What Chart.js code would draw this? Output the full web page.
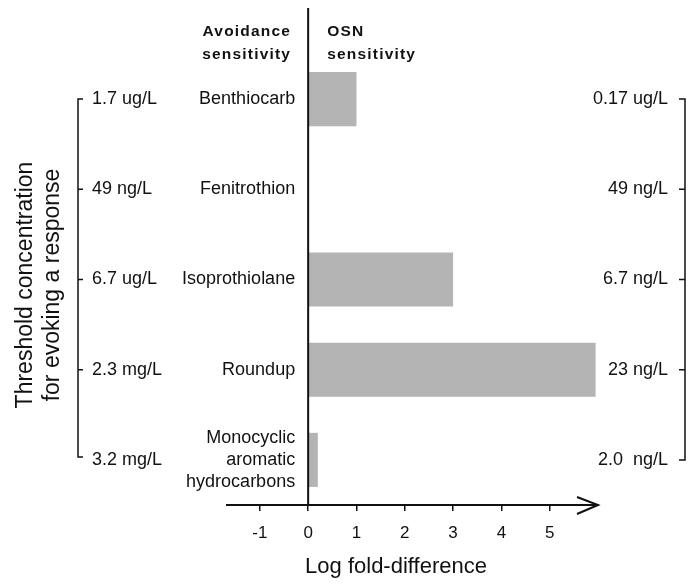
<!DOCTYPE html>
<html>
<head>
<meta charset="utf-8">
<script src="https://cdn.jsdelivr.net/npm/chart.js@4"></script>
<style>
  body { margin: 0; background: #fff; }
  #wrap { width: 697px; height: 584px; }
</style>
</head>
<body>
<div id="wrap"><canvas id="myChart" width="697" height="584"></canvas></div>
<script>
const categories = ['Benthiocarb', 'Fenitrothion', 'Isoprothiolane', 'Roundup', ['Monocyclic', 'aromatic', 'hydrocarbons']];
const foldDiff = [1.0, 0, 3.0, 5.95, 0.2];
const avoidanceConc = ['1.7 ug/L', '49 ng/L', '6.7 ug/L', '2.3 mg/L', '3.2 mg/L'];
const osnConc = ['0.17 ug/L', '49 ng/L', '6.7 ng/L', '23 ng/L', '2.0  ng/L'];
const xTicks = [-1, 0, 1, 2, 3, 4, 5];

const FONT = "'Liberation Sans', Arial, sans-serif";
const INK = '#111';

// draws the labels, brackets, zero line and arrow around the bars
const annotations = {
  id: 'annotations',
  afterDatasetsDraw(chart) {
    const ctx = chart.ctx;
    const x = chart.scales.x;
    const y = chart.scales.y;
    const area = chart.chartArea;
    const x0 = x.getPixelForValue(0);
    ctx.save();
    ctx.strokeStyle = INK;
    ctx.fillStyle = INK;

    // zero line
    ctx.lineWidth = 2;
    ctx.beginPath();
    ctx.moveTo(x0, 8);
    ctx.lineTo(x0, area.bottom);
    ctx.stroke();

    // arrow head at the end of the x axis
    ctx.beginPath();
    ctx.moveTo(area.right - 21, area.bottom - 8);
    ctx.lineTo(area.right, area.bottom);
    ctx.lineTo(area.right - 21, area.bottom + 9);
    ctx.stroke();

    // column headers
    ctx.font = 'bold 15.5px ' + FONT;
    ctx.letterSpacing = '1.2px';
    ctx.textBaseline = 'alphabetic';
    ctx.textAlign = 'right';
    ctx.fillText('Avoidance', x0 - 17, 36);
    ctx.fillText('sensitivity', x0 - 17, 59);
    ctx.textAlign = 'left';
    ctx.fillText('OSN', x0 + 19, 36);
    ctx.fillText('sensitivity', x0 + 19, 59);
    ctx.letterSpacing = '0px';

    // category names, concentrations and brackets
    ctx.font = '18px ' + FONT;
    ctx.textBaseline = 'middle';
    const lx = 78, rx = 685;
    const yFirst = y.getPixelForValue(0);
    const yLast = y.getPixelForValue(categories.length - 1);
    ctx.lineWidth = 1.5;
    ctx.beginPath();
    ctx.moveTo(lx + 5, yFirst);
    ctx.lineTo(lx, yFirst);
    ctx.lineTo(lx, yLast - 3);
    ctx.lineTo(lx + 5, yLast - 3);
    ctx.moveTo(rx - 6, yFirst);
    ctx.lineTo(rx, yFirst);
    ctx.lineTo(rx, yLast);
    ctx.lineTo(rx - 6, yLast);
    ctx.stroke();

    categories.forEach((name, i) => {
      const py = y.getPixelForValue(i);
      if (i > 0 && i < categories.length - 1) {
        ctx.beginPath();
        ctx.moveTo(lx, py);
        ctx.lineTo(lx + 5, py);
        ctx.moveTo(rx, py);
        ctx.lineTo(rx - 6, py);
        ctx.stroke();
      }
      ctx.textAlign = 'right';
      const lines = Array.isArray(name) ? name : [name];
      lines.forEach((line, j) => {
        ctx.fillText(line, x0 - 13, py + (j - (lines.length - 1) / 2) * 22);
      });
      ctx.textAlign = 'left';
      ctx.fillText(avoidanceConc[i], 92, py);
      ctx.textAlign = 'right';
      ctx.fillText(osnConc[i], 668, py);
    });

    // axis titles
    ctx.font = '22px ' + FONT;
    ctx.textAlign = 'center';
    ctx.fillText('Log fold-difference', 396, 567);
    ctx.font = '23px ' + FONT;
    ctx.translate(0, 285);
    ctx.rotate(-Math.PI / 2);
    ctx.fillText('Threshold concentration', 0, 26);
    ctx.fillText('for evoking a response', 0, 53);
    ctx.restore();
  }
};

new Chart(document.getElementById('myChart'), {
  type: 'bar',
  data: {
    labels: categories,
    datasets: [{
      data: foldDiff,
      backgroundColor: '#b4b4b4',
      borderWidth: 0,
      categoryPercentage: 1,
      barPercentage: 0.6
    }]
  },
  options: {
    indexAxis: 'y',
    responsive: false,
    devicePixelRatio: 1,
    animation: false,
    layout: { padding: { left: 227, right: 99, top: 54, bottom: 0 } },
    plugins: { legend: { display: false }, tooltip: { enabled: false } },
    scales: {
      y: { display: false },
      x: {
        min: -1.68,
        max: 6.0,
        afterBuildTicks(axis) {
          axis.ticks = xTicks.map(v => ({ value: v }));
        },
        afterFit(axis) {
          axis.height = 79;
        },
        border: { display: true, color: INK, width: 2 },
        grid: { drawOnChartArea: false, drawTicks: true, tickLength: 6, color: INK, lineWidth: 1.5 },
        ticks: { color: INK, padding: 12, font: { family: FONT, size: 17 } }
      }
    }
  },
  plugins: [annotations]
});
</script>
</body>
</html>
